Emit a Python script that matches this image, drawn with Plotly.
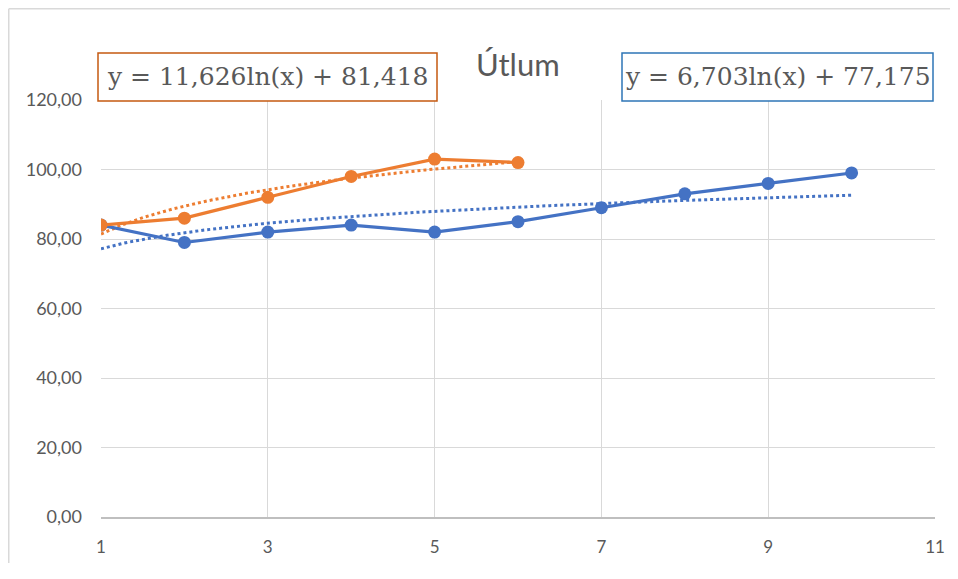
import numpy as np
import plotly.graph_objects as go

# ---- data ----
x_blue = [1, 2, 3, 4, 5, 6, 7, 8, 9, 10]
y_blue = [84, 79, 82, 84, 82, 85, 89, 93, 96, 99]
x_orange = [1, 2, 3, 4, 5, 6]
y_orange = [84, 86, 92, 98, 103, 102]
x_ticks = [1, 3, 5, 7, 9, 11]
y_ticks = [0, 20, 40, 60, 80, 100, 120]
title_text = "Útlum"

BLUE = "#4472C4"
ORANGE = "#ED7D31"
GRAY = "#595959"
FONT = "Lato, 'Open Sans', sans-serif"
SERIF = "'DejaVu Serif', serif"


def log_fit(xs, ys):
    a, b = np.polyfit(np.log(np.array(xs, dtype=float)), np.array(ys, dtype=float), 1)
    return a, b


def fmt(v):
    return f"{v:.3f}".replace(".", ",")


a_b, b_b = log_fit(x_blue, y_blue)
a_o, b_o = log_fit(x_orange, y_orange)

xs_b = np.linspace(min(x_blue), max(x_blue), 200)
xs_o = np.linspace(min(x_orange), max(x_orange), 200)

fig = go.Figure()
fig.add_trace(go.Scatter(x=xs_b, y=a_b * np.log(xs_b) + b_b, mode="lines",
                         line=dict(color=BLUE, width=3, dash="dot"), hoverinfo="skip"))
fig.add_trace(go.Scatter(x=xs_o, y=a_o * np.log(xs_o) + b_o, mode="lines",
                         line=dict(color=ORANGE, width=3, dash="dot"), hoverinfo="skip"))
fig.add_trace(go.Scatter(x=x_blue, y=y_blue, mode="lines+markers",
                         line=dict(color=BLUE, width=3.2),
                         marker=dict(color=BLUE, size=13)))
fig.add_trace(go.Scatter(x=x_orange, y=y_orange, mode="lines+markers",
                         line=dict(color=ORANGE, width=3.2),
                         marker=dict(color=ORANGE, size=13)))

# page body has an 8px margin; figure origin is at screen (8, 8)
OFF = 8
W, H = 950, 555
L = 101 - OFF
T = 100 - OFF
R = W - (935 - OFF)
B = H - (517 - OFF)
pw, ph = W - L - R, H - T - B


def px(sx):
    return (sx - OFF - L) / pw


def py(sy):
    return (H - B - (sy - OFF)) / ph


BORDER = dict(color="#D9D9D9", width=1.5)
shapes = [
    # outer chart border (left and top edges visible)
    dict(type="line", xref="paper", yref="paper", x0=px(8.75), x1=px(8.75), y0=py(8.75), y1=py(570),
         line=BORDER, layer="below"),
    dict(type="line", xref="paper", yref="paper", x0=px(8.75), x1=px(958), y0=py(8.75), y1=py(8.75),
         line=BORDER, layer="below"),
    # equation boxes
    dict(type="rect", xref="paper", yref="paper", x0=px(98), x1=px(437), y0=py(101), y1=py(53),
         line=dict(color="#C55A11", width=1.5), fillcolor="white"),
    dict(type="rect", xref="paper", yref="paper", x0=px(622), x1=px(933), y0=py(101), y1=py(53),
         line=dict(color="#2E75B6", width=1.5), fillcolor="white"),
]

annotations = [
    dict(text=title_text, xref="paper", yref="paper", x=px(518), y=py(64),
         xanchor="center", yanchor="middle", showarrow=False,
         font=dict(family=FONT, size=31, color=GRAY)),
    dict(text=f"y = {fmt(a_o)}ln(x) + {fmt(b_o)}", xref="paper", yref="paper",
         x=px(267.5), y=py(77), xanchor="center", yanchor="middle", showarrow=False,
         font=dict(family=SERIF, size=25, color=GRAY)),
    dict(text=f"y = {fmt(a_b)}ln(x) + {fmt(b_b)}", xref="paper", yref="paper",
         x=px(777.5), y=py(77), xanchor="center", yanchor="middle", showarrow=False,
         font=dict(family=SERIF, size=25, color=GRAY)),
]

fig.update_layout(
    width=W, height=H,
    margin=dict(l=L, r=R, t=T, b=B),
    plot_bgcolor="white", paper_bgcolor="white",
    showlegend=False,
    separators=", ",
    font=dict(family=FONT, size=17, color=GRAY),
    shapes=shapes,
    annotations=annotations,
)
fig.update_xaxes(range=[1, 11], tickvals=x_ticks, showgrid=True, gridcolor="#D9D9D9",
                 gridwidth=1, zeroline=False, showline=True, linecolor="#BFBFBF",
                 linewidth=1.5, ticks="", ticklabelstandoff=14, automargin=False,
                 tickfont=dict(size=17, color=GRAY))
fig.update_yaxes(range=[0, 120], tickvals=y_ticks, tickformat=".2f", showgrid=True,
                 gridcolor="#D9D9D9", gridwidth=1, zeroline=False, showline=False,
                 ticks="", ticklabelstandoff=18, automargin=False,
                 tickfont=dict(size=18, color=GRAY))

fig.write_html("out.html")
